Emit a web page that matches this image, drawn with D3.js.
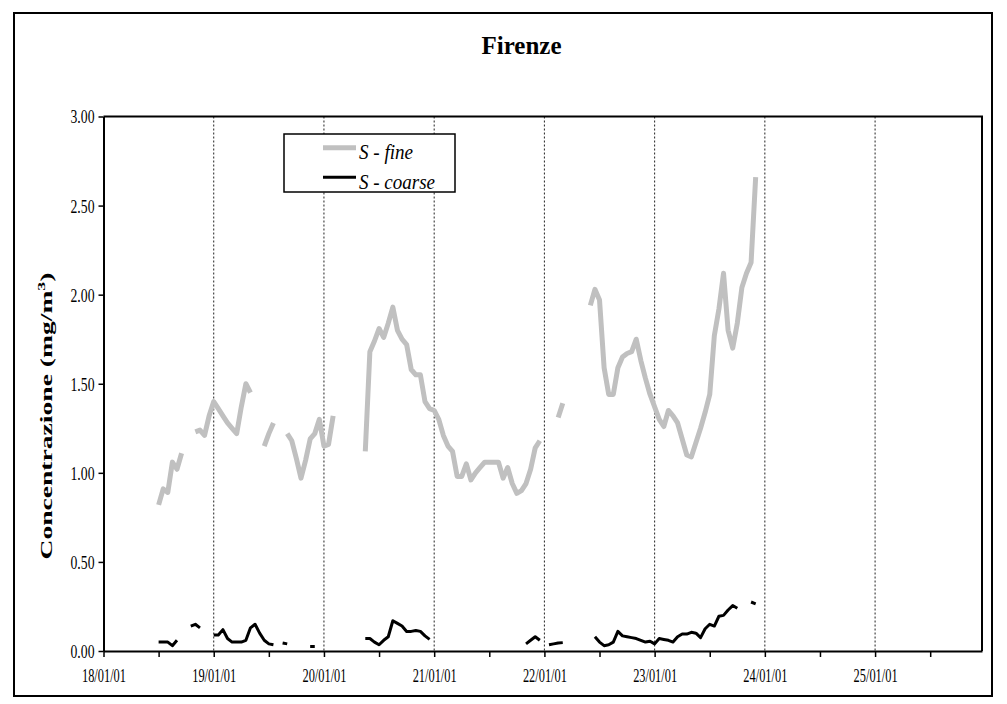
<!DOCTYPE html>
<html>
<head>
<meta charset="utf-8">
<script src="https://cdn.jsdelivr.net/npm/d3@7"></script>
<style>
  body { margin: 0; background: #fff; }
  svg { display: block; }
</style>
</head>
<body>
<svg id="chart"></svg>
<script>
// ---- data (hourly samples, first one at 18/01/01 12:00) ----
const title = "Firenze";
const seriesNames = ["S - fine", "S - coarse"];
const firstSample = Date.UTC(2001, 0, 18, 12);

const sFine = [
  0.82, 0.91, 0.89, 1.06, 1.02, 1.11, null, null, 1.23, 1.24, 1.21, 1.32,          // 18/01 12h-23h
  1.40, 1.36, 1.32, 1.28, 1.25, 1.22, 1.37, 1.50, 1.45, null, null, 1.15,          // 19/01 0h-11h
  1.22, 1.28, null, null, 1.22, 1.18, 1.08, 0.97, 1.07, 1.19, 1.22, 1.30,          // 19/01 12h-23h
  1.15, 1.16, 1.32, null, null, null, null, null, null, 1.12, 1.68, 1.74,          // 20/01 0h-11h
  1.81, 1.76, 1.84, 1.93, 1.80, 1.75, 1.72, 1.58, 1.55, 1.55, 1.40, 1.36,          // 20/01 12h-23h
  1.35, 1.30, 1.21, 1.15, 1.12, 0.98, 0.98, 1.05, 0.96, 1.00, 1.03, 1.06,          // 21/01 0h-11h
  1.06, 1.06, 1.06, 0.97, 1.03, 0.94, 0.885, 0.90, 0.94, 1.02, 1.14, 1.18,         // 21/01 12h-23h
  null, null, null, 1.31, 1.39, null, null, null, null, null, 1.94, 2.03,          // 22/01 0h-11h
  1.97, 1.59, 1.44, 1.44, 1.59, 1.65, 1.67, 1.68, 1.75, 1.63, 1.53, 1.44,          // 22/01 12h-23h
  1.37, 1.30, 1.26, 1.35, 1.32, 1.28, 1.19, 1.10, 1.09, 1.17, 1.25, 1.34,          // 23/01 0h-11h
  1.44, 1.77, 1.92, 2.12, 1.80, 1.70, 1.84, 2.04, 2.12, 2.18, 2.66                 // 23/01 12h-22h
];

const sCoarse = [
  0.05, 0.05, 0.05, 0.03, 0.06, null, null, 0.14, 0.15, 0.13, null, null,          // 18/01 12h-23h
  0.09, 0.09, 0.12, 0.07, 0.05, 0.05, 0.05, 0.06, 0.13, 0.15, 0.10, 0.06,          // 19/01 0h-11h
  0.04, 0.035, null, 0.045, 0.04, null, null, null, null, 0.025, 0.025, null,      // 19/01 12h-23h
  null, null, null, null, null, null, null, null, null, 0.07, 0.07, 0.05,          // 20/01 0h-11h
  0.035, 0.06, 0.08, 0.17, 0.155, 0.14, 0.11, 0.11, 0.115, 0.11, 0.085, 0.065,     // 20/01 12h-23h
  null, null, null, null, null, null, null, null, null, null, null, null,          // 21/01 0h-11h
  null, null, null, null, null, null, null, null, 0.04, 0.06, 0.08, 0.06,          // 21/01 12h-23h
  null, 0.035, 0.04, 0.045, 0.047, null, null, null, null, null, null, 0.08,       // 22/01 0h-11h
  0.05, 0.03, 0.035, 0.05, 0.11, 0.085, 0.08, 0.075, 0.07, 0.06, 0.05, 0.055,      // 22/01 12h-23h
  0.04, 0.07, 0.065, 0.06, 0.05, 0.08, 0.095, 0.095, 0.105, 0.10, 0.075, 0.125,    // 23/01 0h-11h
  0.15, 0.14, 0.195, 0.20, 0.23, 0.255, 0.24, null, null, 0.275, 0.265             // 23/01 12h-22h
];

const yTicks = [0, 0.5, 1, 1.5, 2, 2.5, 3];
const gridDays = [19, 20, 21, 22, 23, 24, 25];

// ---- layout ----
const width = 1007, height = 704;
const margin = { top: 116.5, right: 25, bottom: 53, left: 103.5 };
const day = 864e5, hour = 36e5;
const t0 = Date.UTC(2001, 0, 18);
const serif = "Liberation Serif, Times New Roman, serif";

const svg = d3.select("#chart").attr("width", width).attr("height", height);

const x = d3.scaleUtc()
  .domain([new Date(t0), new Date(t0 + 7.97 * day)])
  .range([margin.left, width - margin.right]);
const y = d3.scaleLinear().domain([0, 3]).range([height - margin.bottom, margin.top]);

// narrow the text to a fixed width, like the condensed original typeface
function fit(sel, w) {
  sel.attr("textLength", w).attr("lengthAdjust", "spacingAndGlyphs");
}

// outer frame
svg.append("rect").attr("x", 14).attr("y", 13).attr("width", 978).attr("height", 683)
  .attr("fill", "none").attr("stroke", "#000").attr("stroke-width", 2);

// title
svg.append("text").attr("x", 521.5).attr("y", 53.5).attr("text-anchor", "middle")
  .attr("font-family", serif).attr("font-size", "25px").attr("font-weight", "bold").text(title)
  .call(fit, 80);

// vertical day gridlines
svg.append("g").selectAll("line").data(gridDays).join("line")
  .attr("x1", d => x(new Date(Date.UTC(2001, 0, d)))).attr("x2", d => x(new Date(Date.UTC(2001, 0, d))))
  .attr("y1", y(3)).attr("y2", y(0))
  .attr("stroke", "#222").attr("stroke-width", 1).attr("stroke-dasharray", "2,2");

// plot frame top/right
svg.append("path")
  .attr("d", `M${x.range()[0]},${y(3)}H${x.range()[1]}V${y(0)}`)
  .attr("fill", "none").attr("stroke", "#000").attr("stroke-width", 2);

// lines
const pts = arr => arr.map((v, i) => ({ t: new Date(firstSample + i * hour), v }));
const line = d3.line().defined(d => d.v != null).x(d => x(d.t)).y(d => y(d.v));

svg.append("path").datum(pts(sFine)).attr("d", line)
  .attr("fill", "none").attr("stroke", "#c0c0c0").attr("stroke-width", 5).attr("stroke-linejoin", "round");
svg.append("path").datum(pts(sCoarse)).attr("d", line)
  .attr("fill", "none").attr("stroke", "#000").attr("stroke-width", 3).attr("stroke-linejoin", "round");

// y axis
const yAxis = svg.append("g").attr("transform", `translate(${margin.left},0)`)
  .call(d3.axisLeft(y).tickValues(yTicks).tickSize(5).tickSizeOuter(0).tickPadding(4).tickFormat(d3.format(".2f")));
yAxis.attr("font-family", serif).attr("font-size", 18);
yAxis.select(".domain").attr("stroke-width", 2);
yAxis.selectAll(".tick line").attr("stroke-width", 1.5);
yAxis.selectAll("text").attr("dy", "0.36em").call(fit, 24);

// x axis, ticks every 12h, labels on days
const xTicks = d3.range(0, 16).map(i => new Date(t0 + i * 12 * hour));
const fmt = d3.utcFormat("%d/%m/%y");
const xAxis = svg.append("g").attr("transform", `translate(0,${height - margin.bottom})`)
  .call(d3.axisBottom(x).tickValues(xTicks).tickSize(6).tickSizeOuter(0)
    .tickFormat(d => d.getUTCHours() === 0 ? fmt(d) : ""));
xAxis.attr("font-family", serif).attr("font-size", 18);
xAxis.select(".domain").attr("stroke-width", 2);
xAxis.selectAll(".tick line").attr("stroke-width", 1.5);
xAxis.selectAll("text").filter(function () { return this.textContent !== ""; })
  .attr("y", 31).attr("dy", 0).call(fit, 44);

// y label
const yl = svg.append("text").attr("transform", "translate(52,416) rotate(-90)")
  .attr("text-anchor", "middle").attr("font-family", serif).attr("font-size", "17px").attr("font-weight", "bold");
yl.append("tspan").text("Concentrazione (mg/m");
yl.append("tspan").attr("dy", -7).attr("font-size", "11px").text("3");
yl.append("tspan").attr("dy", 7).text(")");
yl.call(fit, 287);

// legend
const lg = svg.append("g");
lg.append("rect").attr("x", 284).attr("y", 134).attr("width", 171).attr("height", 58)
  .attr("fill", "#fff").attr("stroke", "#000").attr("stroke-width", 1.5);
const legendItems = [
  { name: seriesNames[0], color: "#c0c0c0", w: 5, ly: 147.7, ty: 158.5, tw: 54 },
  { name: seriesNames[1], color: "#000", w: 3, ly: 177.3, ty: 188.5, tw: 76 }
];
legendItems.forEach(d => {
  lg.append("line").attr("x1", 323).attr("x2", 356).attr("y1", d.ly).attr("y2", d.ly)
    .attr("stroke", d.color).attr("stroke-width", d.w);
  lg.append("text").attr("x", 359).attr("y", d.ty).attr("font-family", serif)
    .attr("font-size", "21px").attr("font-style", "italic")
    .text(d.name).call(fit, d.tw);
});
</script>
</body>
</html>
